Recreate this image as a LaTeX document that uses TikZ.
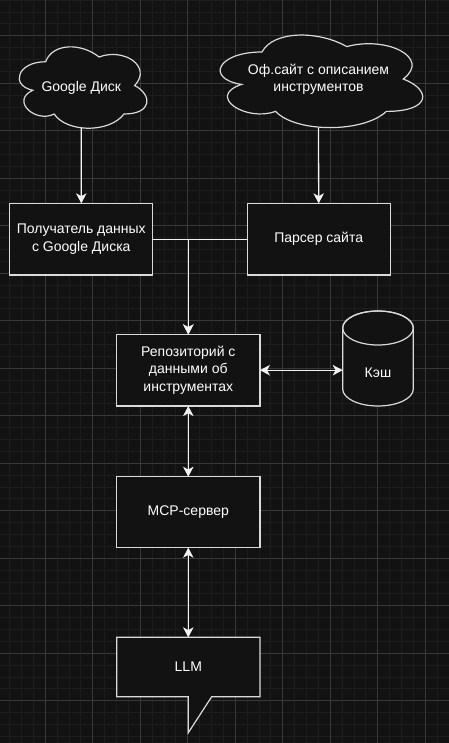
\documentclass[tikz,border=0pt]{standalone}
\usepackage{fontspec}
\setmainfont{Liberation Sans}
\usetikzlibrary{arrows.meta}
\definecolor{bg}{HTML}{121212}
\definecolor{gminor}{HTML}{1D1D1D}
\definecolor{gmajor}{HTML}{383838}
\definecolor{edgec}{HTML}{F2F2F2}
\definecolor{borderc}{HTML}{DADADA}
\begin{document}
\begin{tikzpicture}[x=1pt,y=-1pt,
  txt/.style={inner sep=0pt, outer sep=0pt, text=white, align=center, font=\fontsize{14}{17.4}\selectfont},
  box/.style={txt, draw=borderc, fill=bg, line width=1.2pt, minimum width=143pt, minimum height=71.7pt},
  shapeline/.style={draw=borderc, fill=bg, line width=1.2pt},
  conn/.style={draw=edgec, line width=1.3pt},
  tipone/.style={-{Stealth[length=10pt,width=10.5pt,inset=2.8pt]}},
  tiptwo/.style={{Stealth[length=10pt,width=10.5pt,inset=2.8pt]}-{Stealth[length=10pt,width=10.5pt,inset=2.8pt]}},
  minorgrid/.style={draw=gminor, line width=0.9pt},
  majorgrid/.style={draw=gmajor, line width=0.9pt}]
\useasboundingbox (0,0) rectangle (449,743);
\fill[bg] (0,0) rectangle (449,743);
% grid
\foreach \i in {-4,...,34} \draw[minorgrid] ({45.3+11.875*\i},0) -- ({45.3+11.875*\i},743);
\foreach \i in {-3,...,60} \draw[minorgrid] (0,{35.8+11.875*\i}) -- (449,{35.8+11.875*\i});
\foreach \i in {-1,...,8} \draw[majorgrid] ({45.3+47.5*\i},0) -- ({45.3+47.5*\i},743);
\foreach \i in {-1,...,15} \draw[majorgrid] (0,{35.8+47.5*\i}) -- (449,{35.8+47.5*\i});
% clouds
\begin{scope}[shift={(10,38)}, x=142.5pt, y=-95pt]
\draw[shapeline] (0.25,0.25) .. controls (0.05,0.25) and (0,0.5) .. (0.16,0.55) .. controls (0,0.66) and (0.18,0.9) .. (0.31,0.8) .. controls (0.4,1) and (0.7,1) .. (0.8,0.8) .. controls (1,0.8) and (1,0.6) .. (0.875,0.5) .. controls (1,0.3) and (0.8,0.1) .. (0.625,0.2) .. controls (0.5,0.05) and (0.3,0.05) .. (0.25,0.25) -- cycle;
\end{scope}
\begin{scope}[shift={(205.5,25)}, x=226pt, y=-108pt]
\draw[shapeline] (0.25,0.25) .. controls (0.05,0.25) and (0,0.5) .. (0.16,0.55) .. controls (0,0.66) and (0.18,0.9) .. (0.31,0.8) .. controls (0.4,1) and (0.7,1) .. (0.8,0.8) .. controls (1,0.8) and (1,0.6) .. (0.875,0.5) .. controls (1,0.3) and (0.8,0.1) .. (0.625,0.2) .. controls (0.5,0.05) and (0.3,0.05) .. (0.25,0.25) -- cycle;
\end{scope}
\node[txt, minimum width=129pt, minimum height=81pt] (gd) at (81.25,87.5) {Google Диск};
\node[txt, minimum width=200pt, minimum height=98pt] (site) at (318.5,79) {Оф.сайт с описанием\\инструментов};
% boxes
\node[box] (b1) at (81.3,239.2) {Получатель данных\\с Google Диска};
\node[box] (b2) at (318.7,239.2) {Парсер сайта};
\node[box, minimum width=143.3pt] (repo) at (188.3,370.2) {Репозиторий с\\данными об\\инструментах};
\node[box, minimum width=143.3pt, minimum height=71pt] (mcp) at (188.3,512.2) {MCP-сервер};
% cylinder
\draw[shapeline] (342.7,328) -- (342.7,389) arc[start angle=180, end angle=360, x radius=35.3pt, y radius=17pt] -- (413.3,328) arc[start angle=0, end angle=180, x radius=35.3pt, y radius=17pt] -- cycle;
\draw[draw=borderc, line width=1.2pt] (378,328) ellipse[x radius=35.3pt, y radius=17pt];
\node[txt, minimum width=70.6pt, minimum height=95.3pt] (cache) at (378,358.35) {};
\node[txt] (cachetext) at (378,373) {Кэш};
% callout
\draw[shapeline] (116.7,637.3) -- (260,637.3) -- (260,696.7) -- (211.7,696.7) -- (188.3,732.7) -- (188.3,696.7) -- (116.7,696.7) -- cycle;
\node[txt, minimum width=143.3pt, minimum height=59.4pt] (llm) at (188.3,667) {LLM};
% connectors
\draw[conn, tipone] (gd.south) -- (b1.north);
\draw[conn, tipone] (site.south) -- (b2.north);
\draw[conn, tipone] (b1.east) -| (repo.north);
\draw[conn, tipone] (b2.west) -| (repo.north);
\draw[conn, tiptwo] (repo.east) -- (repo.east -| cache.west);
\draw[conn, tiptwo] (repo.south) -- (mcp.north);
\draw[conn, tiptwo] (mcp.south) -- (llm.north);
\end{tikzpicture}
\end{document}
